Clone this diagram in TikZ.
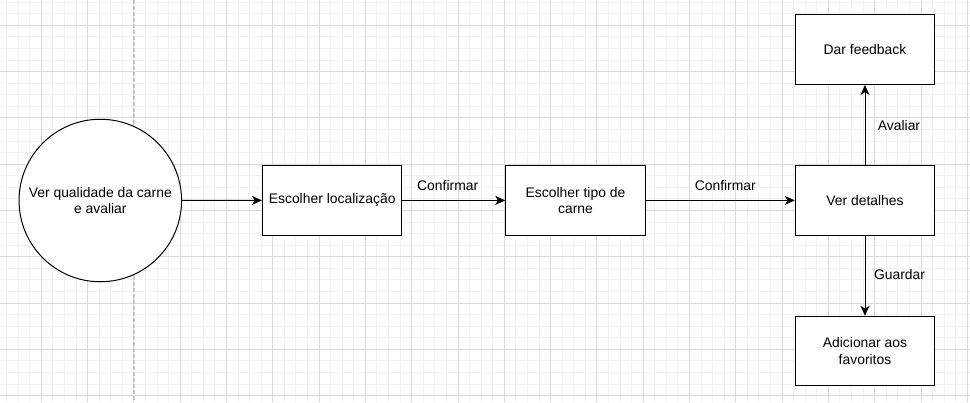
\documentclass[tikz,border=0pt]{standalone}
\usepackage{fontspec}
\setmainfont{Liberation Sans}
\usetikzlibrary{arrows.meta}
\definecolor{minorgrid}{HTML}{F2F2F2}
\definecolor{majorgrid}{HTML}{DADADA}
\definecolor{dashgray}{HTML}{C8C8C8}
\begin{document}
\begin{tikzpicture}[x=1pt,y=-1pt,
  every node/.style={font=\fontsize{13.9pt}{16.7pt}\selectfont, text=black},
  box/.style={draw=black, line width=1pt, fill=white, minimum width=139.5pt, minimum height=69.5pt, align=center, inner sep=2pt},
  circ/.style={draw=black, line width=1pt, fill=white, circle, minimum size=162.5pt, align=center, inner sep=0pt},
  conn/.style={draw=black, line width=1pt, -{Stealth[length=10pt,width=9pt,inset=2.8pt]}},
  lbl/.style={inner sep=1pt}]
\useasboundingbox (0,0) rectangle (970,402);
\fill[white] (0,0) rectangle (970,402);
% minor grid
\foreach \k in {-4,...,81} {
  \draw[minorgrid, line width=1pt] ({41.3+11.575*\k},0) -- ({41.3+11.575*\k},402);
}
\foreach \k in {-3,...,33} {
  \draw[minorgrid, line width=1pt] (0,{25.3+11.575*\k}) -- (970,{25.3+11.575*\k});
}
% major grid
\foreach \k in {-1,...,20} {
  \draw[majorgrid, line width=1pt] ({41.3+46.3*\k},0) -- ({41.3+46.3*\k},402);
}
\foreach \k in {-1,...,8} {
  \draw[majorgrid, line width=1pt] (0,{25.3+46.3*\k}) -- (970,{25.3+46.3*\k});
}
% dashed divider
\draw[dashgray, line width=1.3pt, dash pattern=on 3.5pt off 2.5pt] (133.9,0) -- (133.9,402);

% nodes
\node[circ] (ver) at (100.3,200.5) {Ver qualidade da carne\\e avaliar};
\node[box] (loc) at (332.2,200.4) {Escolher localização};
\node[box] (tipo) at (575.5,200.4) {Escolher tipo de\\carne};
\node[box] (det) at (865,200.4) {Ver detalhes};
\node[box] (feed) at (865,49.7) {Dar feedback};
\node[box] (fav) at (865,351) {Adicionar aos\\favoritos};

% connectors
\draw[conn] (ver) -- (loc);
\draw[conn] (loc) -- (tipo);
\draw[conn] (tipo) -- (det);
\draw[conn] (det) -- (feed);
\draw[conn] (det) -- (fav);

% labels
\node[lbl] (l1) at (447.7,186) {Confirmar};
\node[lbl] (l2) at (725.3,186) {Confirmar};
\node[lbl] (l3) at (899,125.5) {Avaliar};
\node[lbl] (l4) at (899.5,275) {Guardar};
\end{tikzpicture}
\end{document}
